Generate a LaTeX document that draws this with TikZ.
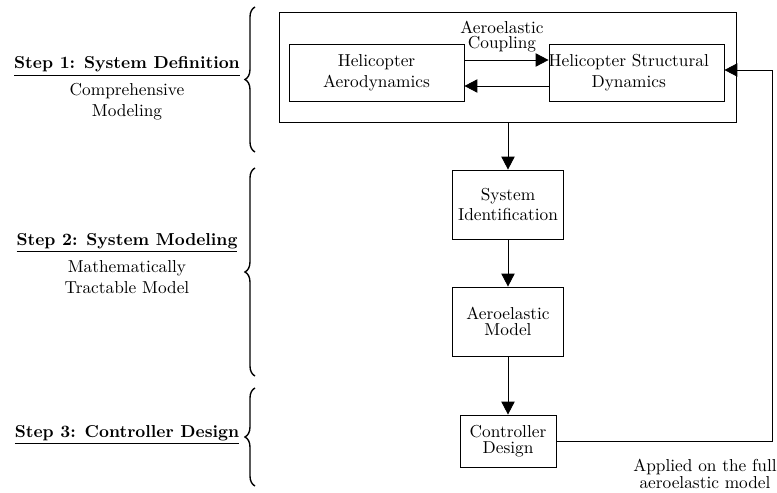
\documentclass[tikz,border=0pt]{standalone}
\usetikzlibrary{arrows.meta,decorations.pathreplacing,calc}
\begin{document}
\begin{tikzpicture}[x=0.578pt,y=-0.578pt,
  box/.style={draw, line width=0.5pt, inner sep=0pt, align=center},
  arr/.style={draw, line width=0.5pt, -{Triangle[length=7.5pt,width=7.7pt]}},
  lbl/.style={align=center, inner sep=0pt},
  tight/.style={font=\fontsize{10}{9.4}\selectfont},
  brc/.style={decorate, decoration={brace, amplitude=5.8pt}, line width=0.8pt},
]
\useasboundingbox (0,0) rectangle (777,493);

% top group
\node[box, minimum width=457*0.578pt, minimum height=110*0.578pt] (outer) at (508,67) {};
\node[box, minimum width=175*0.578pt, minimum height=57*0.578pt] (haero) at (376.5,72.5) {Helicopter\\Aerodynamics};
\node[box, minimum width=175*0.578pt, minimum height=57*0.578pt, text width=175*0.578pt, align=center] (hstruct) at (636.5,72.5) {\hspace*{-9pt}Helicopter Structural\\\hspace*{-9pt}Dynamics};
\node[lbl, font=\fontsize{10}{8.5}\selectfont] (coupling) at (502,36.5) {Aeroelastic\\Coupling};

% column
\node[box, minimum width=111*0.578pt, minimum height=69*0.578pt] (sysid) at (508,204.5) {System\\Identification};
\node[box, tight, minimum width=111*0.578pt, minimum height=69*0.578pt] (aemodel) at (508,321.5) {Aeroelastic\\Model};
\node[box, tight, minimum width=96*0.578pt, minimum height=52*0.578pt] (ctrl) at (508,441) {Controller\\Design};
\node[lbl, tight] (applied) at (705,474) {Applied on the full\\aeroelastic model};

% connectors
\draw[arr] ($(haero.east)+(0,-12.5)$) -- ($(hstruct.west)+(0,-12.5)$);
\draw[arr] ($(hstruct.west)+(0,13.5)$) -- ($(haero.east)+(0,13.5)$);
\draw[arr] (outer.south) -- (sysid.north);
\draw[arr] (sysid.south) -- (aemodel.north);
\draw[arr] (aemodel.south) -- (ctrl.north);
\coordinate (fb) at (772,70);
\draw[arr] (ctrl.east) -| (fb) -- (hstruct.east |- fb);

% left labels
\node[lbl, anchor=base] (step1) at (127,69) {\underline{\textbf{Step 1: System Definition}}};
\node[lbl] (sub1) at (127,102) {Comprehensive\\Modeling};
\node[lbl, anchor=base] (step2) at (127,245) {\underline{\textbf{Step 2: System Modeling}}};
\node[lbl] (sub2) at (127,277) {Mathematically\\Tractable Model};
\node[lbl, anchor=base] (step3) at (127,437) {\underline{\textbf{Step 3: Controller Design}}};

% braces
\draw[brc] (255,152) -- (255,7);
\draw[brc] (255,376) -- (255,168);
\draw[brc] (255,486) -- (255,388);
\end{tikzpicture}
\end{document}
